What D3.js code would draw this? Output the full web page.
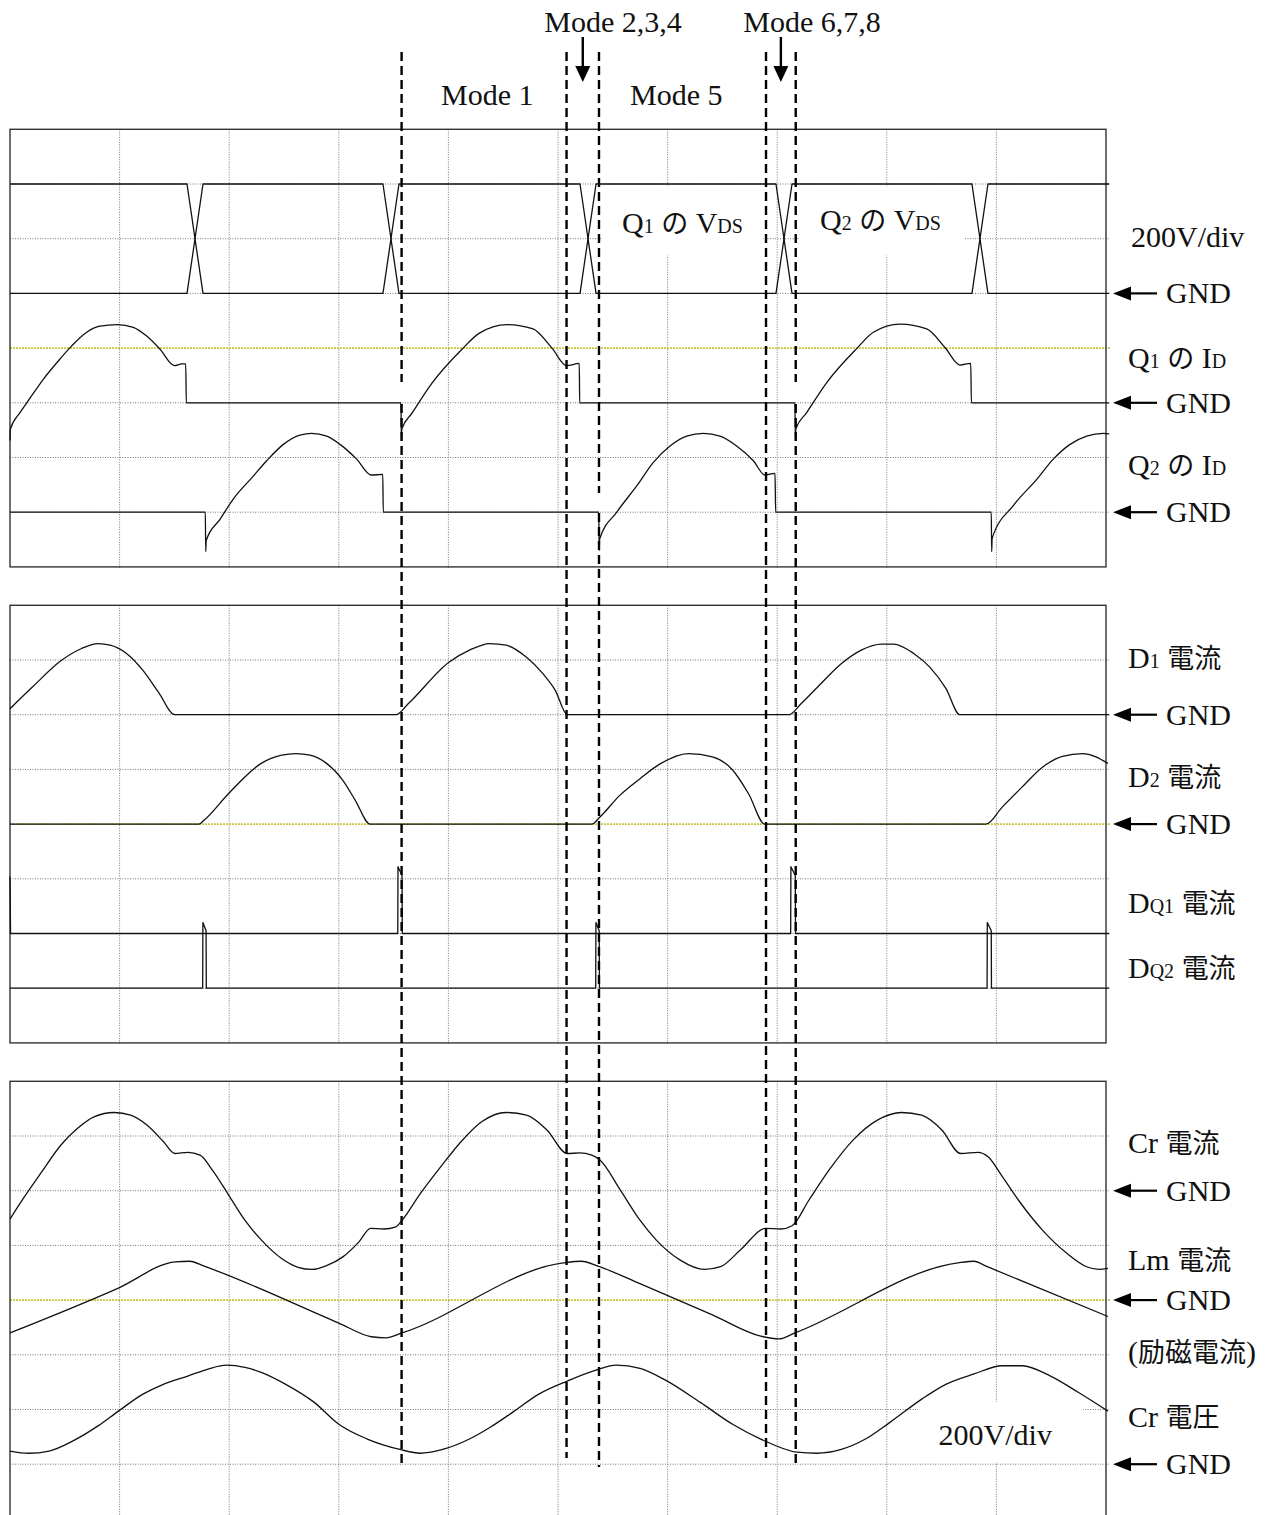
<!DOCTYPE html>
<html lang="ja">
<head>
<meta charset="UTF-8">
<title>LLC waveforms - modes</title>
<script src="https://cdn.jsdelivr.net/npm/d3@7"></script>
<style>
  body { margin: 0; background: #fff; }
  svg { display: block; }
  text { font-family: "Liberation Serif", "DejaVu Serif", "Noto Sans CJK JP", serif; fill: #111; }
  .n { font-size: 30px; }
  .s { font-size: 20px; }
  .j { font-size: 27px; font-family: "Noto Sans CJK JP", sans-serif; }
</style>
</head>
<body>
<script>
// time in divisions (0..10), values in divisions above each trace's GND line
var q1Vds = [[0,0],[1.615,0],[1.761,2],[3.403,2],[3.549,0],[5.201,0],[5.347,2],[6.989,2],[7.135,0],[8.777,0],[8.923,2],[10.03,2]];
var q2Vds = [[0,2],[1.615,2],[1.761,0],[3.403,0],[3.549,2],[5.201,2],[5.347,0],[6.989,0],[7.135,2],[8.777,2],[8.923,0],[10.03,0]];

var q1Id = [[0,-0.69],[0.004,-0.48],[0.091,-0.18],[0.167,0.04],[0.304,0.43],[0.456,0.80],[0.563,1.04],[0.700,1.29],[0.821,1.40],[0.979,1.43],[1.125,1.38],[1.247,1.22],[1.369,0.98],[1.499,0.68],[1.567,0.71],[1.603,0.71],[1.609,0],
  [3.567,0],[3.571,-0.69],[3.575,-0.48],[3.668,-0.19],[3.850,0.36],[4.124,0.98],[4.279,1.27],[4.535,1.43],[4.772,1.35],[4.945,1.00],[5.079,0.68],[5.194,0.72],[5.198,0],
  [7.162,0],[7.166,-0.69],[7.170,-0.48],[7.269,-0.18],[7.452,0.37],[7.725,0.99],[7.877,1.29],[8.120,1.44],[8.364,1.35],[8.531,1.01],[8.668,0.69],[8.766,0.72],[8.772,0],[10.03,0]];

var q2Id = [[0,0],[1.782,0],[1.786,-0.72],[1.790,-0.52],[1.916,-0.13],[2.037,0.24],[2.220,0.66],[2.342,0.94],[2.494,1.24],[2.646,1.41],[2.753,1.44],[2.890,1.39],[3.011,1.24],[3.163,0.97],[3.294,0.68],[3.401,0.69],[3.406,0],
  [5.372,0],[5.376,-0.70],[5.380,-0.49],[5.536,0],[5.718,0.48],[5.870,0.91],[6.022,1.21],[6.174,1.39],[6.326,1.44],[6.478,1.39],[6.630,1.21],[6.782,0.94],[6.889,0.68],[6.980,0.71],[6.986,0],
  [8.953,0],[8.957,-0.72],[8.961,-0.48],[9.154,0.12],[9.368,0.60],[9.519,0.97],[9.672,1.24],[9.824,1.39],[9.975,1.44],[10.03,1.43]];

var d1I = [[0,0.11],[0.207,0.51],[0.467,0.99],[0.653,1.21],[0.803,1.30],[0.914,1.27],[1.063,1.12],[1.213,0.81],[1.361,0.39],[1.503,0],
  [3.521,0],[3.633,0.20],[4.005,0.96],[4.192,1.18],[4.378,1.30],[4.527,1.27],[4.713,1.05],[4.862,0.75],[4.974,0.45],[5.085,0],
  [7.107,0],[7.217,0.20],[7.400,0.57],[7.584,0.93],[7.767,1.18],[7.951,1.29],[8.061,1.29],[8.245,1.12],[8.392,0.87],[8.539,0.48],[8.667,0],[10.03,0]];

var d2I = [[0,0],[1.723,0],[1.770,0.07],[1.995,0.56],[2.292,1.11],[2.478,1.26],[2.609,1.29],[2.739,1.26],[2.888,1.11],[3.037,0.80],[3.149,0.44],[3.286,0],
  [5.308,0],[5.383,0.13],[5.566,0.53],[5.748,0.83],[5.931,1.10],[6.189,1.29],[6.409,1.23],[6.593,0.99],[6.740,0.55],[6.886,0],
  [8.906,0],[9.053,0.31],[9.236,0.68],[9.420,1.04],[9.603,1.24],[9.787,1.29],[10.018,1.11]];

var dq1I = [[0,1.04],[0.005,0],[3.538,0],[3.540,1.22],[3.577,1.06],[3.579,0],[7.123,0],[7.125,1.22],[7.165,1.06],[7.167,0],[10.03,0]];
var dq2I = [[0,0],[1.758,0],[1.760,1.20],[1.789,1.05],[1.791,0],[5.344,0],[5.346,1.20],[5.376,1.05],[5.378,0],[8.915,0],[8.917,1.20],[8.953,1.05],[8.955,0],[10.03,0]];

var crI = [[0,-0.52],[0.132,-0.11],[0.281,0.32],[0.467,0.84],[0.617,1.14],[0.766,1.35],[0.952,1.43],[1.100,1.38],[1.249,1.20],[1.399,0.90],[1.503,0.68],[1.622,0.70],[1.734,0.65],[1.845,0.38],[1.995,-0.08],[2.143,-0.54],[2.292,-0.90],[2.478,-1.24],[2.628,-1.40],[2.757,-1.44],[2.888,-1.37],[3.037,-1.21],[3.186,-0.93],[3.290,-0.69],[3.410,-0.70],[3.521,-0.66],[3.577,-0.54],
  [3.745,-0.05],[3.931,0.44],[4.117,0.90],[4.303,1.26],[4.527,1.43],[4.713,1.38],[4.899,1.11],[5.085,0.68],[5.197,0.69],[5.308,0.65],[5.383,0.56],[5.569,0.01],[5.748,-0.54],[5.895,-0.90],[6.115,-1.27],[6.336,-1.44],[6.483,-1.39],[6.666,-1.08],[6.894,-0.69],[7.033,-0.70],[7.136,-0.64],
  [7.290,-0.17],[7.474,0.38],[7.694,0.93],[7.914,1.29],[8.135,1.43],[8.318,1.38],[8.502,1.11],[8.674,0.68],[8.832,0.70],[8.924,0.62],[9.053,0.26],[9.200,-0.17],[9.420,-0.72],[9.640,-1.14],[9.824,-1.39],[9.934,-1.44],[10.018,-1.42]];

var lmI = [[0,-0.60],[0.989,0.22],[1.510,0.70],[1.641,0.71],[1.771,0.62],[3.000,-0.42],[3.297,-0.67],[3.428,-0.69],[3.577,-0.60],[5.048,0.68],[5.215,0.71],[5.365,0.62],[5.748,0.30],[6.409,-0.27],[6.850,-0.66],[7.015,-0.71],[7.162,-0.60],[8.649,0.68],[8.796,0.71],[8.906,0.62],[10.018,-0.30]];

var crV = [[0,0.24],[0.170,0.20],[0.356,0.24],[0.579,0.43],[0.803,0.70],[0.989,0.97],[1.213,1.28],[1.399,1.46],[1.622,1.61],[1.808,1.74],[1.975,1.81],[2.143,1.77],[2.292,1.68],[2.516,1.46],[2.776,1.13],[3.000,0.73],[3.260,0.46],[3.558,0.27],[3.745,0.20],[3.931,0.26],[4.192,0.46],[4.378,0.67],[4.601,0.97],[4.825,1.28],[5.085,1.52],[5.346,1.72],[5.532,1.81],[5.748,1.75],[5.968,1.55],[6.299,1.13],[6.593,0.73],[6.850,0.46],[7.180,0.22],[7.364,0.20],[7.584,0.27],[7.805,0.46],[8.025,0.76],[8.319,1.19],[8.538,1.46],[8.796,1.65],[9.053,1.80],[9.236,1.80],[9.494,1.61],[9.750,1.31],[10.018,0.97]];

// mode boundaries (time, divisions)
var modeTimes = [3.573, 5.078, 5.374, 6.898, 7.169];

var W = 1271, H = 1515;
var svg = d3.select("body").append("svg").attr("width", W).attr("height", H);

var x = d3.scaleLinear().domain([0, 10]).range([10, 1106]);
var divPx = 54.7;
var panelTops = [129.3, 605.3, 1081.3];
var yScales = panelTops.map(function(top) {
    return d3.scaleLinear().domain([0, 8]).range([top + 8 * divPx, top]);
});

// grid
panelTops.forEach(function(top, p) {
    var y = yScales[p];
    var g = svg.append("g");
    g.selectAll("line.v").data(d3.range(1, 10)).join("line")
        .attr("class", "v")
        .attr("x1", d => x(d)).attr("x2", d => x(d))
        .attr("y1", y(8)).attr("y2", y(0) + 2)
        .attr("stroke", "#777").attr("stroke-width", 1).attr("stroke-dasharray", "1,1.5");
    g.selectAll("line.h").data(d3.range(1, 8)).join("line")
        .attr("class", "h")
        .attr("x1", x(0)).attr("x2", x(10) + 4)
        .attr("y1", d => y(d)).attr("y2", d => y(d))
        .attr("stroke", d => d === 4 ? "#c9c63a" : "#777")
        .attr("stroke-width", d => d === 4 ? 1.6 : 1)
        .attr("stroke-dasharray", d => d === 4 ? "2,1" : "1,1.5");
    g.append("rect")
        .attr("x", x(0)).attr("y", y(8))
        .attr("width", x(10) - x(0)).attr("height", y(0) - y(8))
        .attr("fill", "none").attr("stroke", "#333").attr("stroke-width", 1.4);
});

// white boxes behind in-plot labels
var boxes = [[601, 187, 162, 68], [800, 187, 165, 68], [918, 1402, 165, 60]];
svg.selectAll("rect.box").data(boxes).join("rect")
    .attr("class", "box")
    .attr("x", d => d[0]).attr("y", d => d[1]).attr("width", d => d[2]).attr("height", d => d[3])
    .attr("fill", "#fff");

// traces
var smooth = d3.curveMonotoneX, sharp = d3.curveLinear;
var traces = [
    {data: q1Vds, panel: 0, gnd: 5, curve: sharp},
    {data: q2Vds, panel: 0, gnd: 5, curve: sharp},
    {data: q1Id, panel: 0, gnd: 3, curve: smooth},
    {data: q2Id, panel: 0, gnd: 1, curve: smooth},
    {data: d1I, panel: 1, gnd: 6, curve: smooth},
    {data: d2I, panel: 1, gnd: 4, curve: smooth},
    {data: dq1I, panel: 1, gnd: 2, curve: sharp},
    {data: dq2I, panel: 1, gnd: 1, curve: sharp},
    {data: crI, panel: 2, gnd: 6, curve: smooth},
    {data: lmI, panel: 2, gnd: 4, curve: smooth},
    {data: crV, panel: 2, gnd: 1, curve: smooth}
];
traces.forEach(function(tr) {
    var y = yScales[tr.panel];
    var line = d3.line()
        .x(d => x(d[0]))
        .y(d => y(tr.gnd + d[1]))
        .curve(tr.curve);
    svg.append("path")
        .attr("d", line(tr.data))
        .attr("fill", "none")
        .attr("stroke", "#111")
        .attr("stroke-width", 1.3)
        .attr("stroke-linejoin", "round");
});

// dashed mode lines (pixel spans in y, gaps where traces cross)
var modeSpans = [
    [[52, 382], [404, 1467]],
    [[52, 1458]],
    [[52, 493], [513, 1467]],
    [[52, 1458]],
    [[52, 382], [404, 1467]]
];
modeTimes.forEach(function(t, i) {
    modeSpans[i].forEach(function(s) {
        svg.append("line")
            .attr("x1", x(t)).attr("x2", x(t))
            .attr("y1", s[0]).attr("y2", s[1])
            .attr("stroke", "#000").attr("stroke-width", 2.4)
            .attr("stroke-dasharray", "9,5");
    });
});

// down arrows between mode 2-4 and 6-8 lines
[[1, 2], [3, 4]].forEach(function(pr) {
    var ax = (x(modeTimes[pr[0]]) + x(modeTimes[pr[1]])) / 2;
    svg.append("line").attr("x1", ax).attr("x2", ax).attr("y1", 37).attr("y2", 70)
        .attr("stroke", "#000").attr("stroke-width", 2.4);
    svg.append("path")
        .attr("d", "M" + ax + ",82 L" + (ax - 7.5) + ",66 L" + (ax + 7.5) + ",66 Z")
        .attr("fill", "#000");
});

// text helper
function label(xp, yp, parts, anchor) {
    var t = svg.append("text").attr("x", xp).attr("y", yp)
        .attr("text-anchor", anchor || "start")
        .attr("xml:space", "preserve");
    parts.forEach(function(p) {
        t.append("tspan").attr("class", p[1]).text(p[0]);
    });
}

label(613, 32, [["Mode 2,3,4", "n"]], "middle");
label(812, 32, [["Mode 6,7,8", "n"]], "middle");
label(441, 105, [["Mode 1", "n"]]);
label(630, 105, [["Mode 5", "n"]]);
label(622, 233, [["Q", "n"], ["1", "s"], [" ", "n"], ["の", "j"], [" ", "n"], ["V", "n"], ["DS", "s"]]);
label(820, 230, [["Q", "n"], ["2", "s"], [" ", "n"], ["の", "j"], [" ", "n"], ["V", "n"], ["DS", "s"]]);
label(1131, 246.5, [["200V/div", "n"]]);
label(1128, 368, [["Q", "n"], ["1", "s"], [" ", "n"], ["の", "j"], [" ", "n"], ["I", "n"], ["D", "s"]]);
label(1128, 475, [["Q", "n"], ["2", "s"], [" ", "n"], ["の", "j"], [" ", "n"], ["I", "n"], ["D", "s"]]);
label(1128, 668, [["D", "n"], ["1", "s"], [" ", "n"], ["電流", "j"]]);
label(1128, 786.5, [["D", "n"], ["2", "s"], [" ", "n"], ["電流", "j"]]);
label(1128, 913, [["D", "n"], ["Q1", "s"], [" ", "n"], ["電流", "j"]]);
label(1128, 978, [["D", "n"], ["Q2", "s"], [" ", "n"], ["電流", "j"]]);
label(1128, 1153, [["Cr ", "n"], ["電流", "j"]]);
label(1128, 1270, [["Lm ", "n"], ["電流", "j"]]);
label(1128, 1361.5, [["(", "n"], ["励磁電流", "j"], [")", "n"]]);
label(1128, 1426.5, [["Cr ", "n"], ["電圧", "j"]]);
label(938.6, 1445, [["200V/div", "n"]]);

// GND markers
var gndMarks = [[0, 5], [0, 3], [0, 1], [1, 6], [1, 4], [2, 6], [2, 4], [2, 1]];
gndMarks.forEach(function(m) {
    var gy = yScales[m[0]](m[1]);
    svg.append("line").attr("x1", 1125).attr("x2", 1157).attr("y1", gy).attr("y2", gy)
        .attr("stroke", "#000").attr("stroke-width", 2.2);
    svg.append("path")
        .attr("d", "M1113," + gy + " L1131," + (gy - 7) + " L1131," + (gy + 7) + " Z")
        .attr("fill", "#000");
    label(1166, gy + 10, [["GND", "n"]]);
});
</script>
</body>
</html>
